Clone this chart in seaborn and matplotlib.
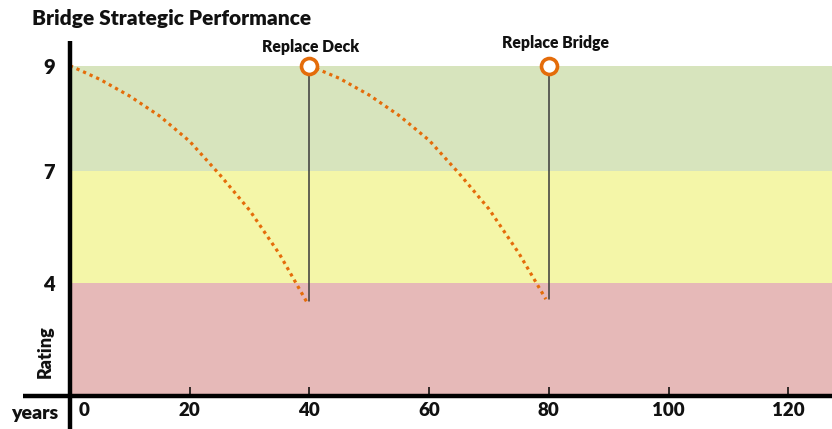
import numpy as np
import pandas as pd
import matplotlib
matplotlib.use("Agg")
import matplotlib.pyplot as plt
import matplotlib.transforms as mtransforms
import seaborn as sns

# Deterioration of the rating over time, first service life and after deck replacement
years_a = [0, 5, 10, 15, 20, 25, 30, 35, 39.5]
rating_a = [9.0, 8.74, 8.42, 8.04, 7.56, 6.90, 5.95, 4.78, 3.52]
years_b = [40, 45, 50, 55, 60, 65, 70, 75, 79.5]
rating_b = [9.0, 8.76, 8.44, 8.05, 7.58, 6.93, 5.98, 4.80, 3.58]

# Intervention events
event_years = [40, 80]
event_labels = ["Replace Deck", "Replace Bridge"]
event_top = 9.0
event_bottom = [3.52, 3.58]

# Condition bands (lower, upper, colour)
band_edges = [1, 4, 7, 9]
band_colors = ["#E6B9B8", "#F4F6A8", "#D7E4BD"]

x_ticks = [0, 20, 40, 60, 80, 100, 120]
y_ticks = [4, 7, 9]

ORANGE = "#E46C0A"
INK = "#111111"

sns.set_theme(style="white")
plt.rcParams["font.family"] = ["Lato", "DejaVu Sans"]

fig = plt.figure(figsize=(8.32, 4.29), dpi=100)
ax = fig.add_axes([70 / 832, 33 / 429, 762 / 832, 355 / 429])


# Rating axis is stretched above 7
def fwd(y):
    y = np.asarray(y, dtype=float)
    return np.where(y <= 7, y, 7 + (y - 7) * 1.4)


def inv(t):
    t = np.asarray(t, dtype=float)
    return np.where(t <= 7, t, 7 + (t - 7) / 1.4)


ax.set_yscale("function", functions=(fwd, inv))

for lo, hi, c in zip(band_edges[:-1], band_edges[1:], band_colors):
    ax.axhspan(lo, hi, color=c, lw=0, zorder=0)

df = pd.concat([
    pd.DataFrame({"year": years_a, "rating": rating_a, "phase": "life 1"}),
    pd.DataFrame({"year": years_b, "rating": rating_b, "phase": "life 2"}),
])
sns.lineplot(data=df, x="year", y="rating", units="phase", estimator=None,
             color=ORANGE, lw=2.3, ax=ax, zorder=3, legend=False)
for ln in ax.get_lines():
    ln.set_dashes((1, 1.25))
    ln.set_dash_capstyle("butt")

# label offsets in points (dx, dy) above each marker
label_offsets = [(1, 7.5), (5, 10.5)]
for x, lab, yb, (dx, dy) in zip(event_years, event_labels, event_bottom, label_offsets):
    ax.plot([x, x], [yb, event_top], color="#3a3a3a", lw=1.1, zorder=2)
    ax.plot([x], [event_top], marker="o", ms=11.5, mfc="white", mec=ORANGE,
            mew=2.6, zorder=5, clip_on=False)
    ax.annotate(lab, xy=(x, event_top), xytext=(dx, dy), textcoords="offset points",
                ha="center", va="bottom", fontsize=11.3, fontweight="heavy",
                color=INK)

ax.set_xlim(0, 127.3)
ax.set_ylim(1, 9.47)

for s in ax.spines.values():
    s.set_visible(False)

# Heavy axis lines that run past the corner
ax.plot([0, 0], [-0.093, 1.0], transform=ax.transAxes, color="black", lw=3.2,
        clip_on=False, zorder=6, solid_capstyle="butt")
ax.plot([-0.062, 1.0], [0, 0], transform=ax.transAxes, color="black", lw=3.2,
        clip_on=False, zorder=6, solid_capstyle="butt")

ax.set_xticks(x_ticks)
ax.set_xticklabels([str(v) for v in x_ticks])
ax.xaxis.set_minor_locator(matplotlib.ticker.NullLocator())
ax.yaxis.set_minor_locator(matplotlib.ticker.NullLocator())
ax.tick_params(axis="x", direction="in", length=6.5, width=1.1, color="black",
               pad=4, labelsize=13.5, bottom=True)
for t in ax.get_xticklabels():
    t.set_fontweight("heavy")
    t.set_color(INK)
xl0 = ax.get_xticklabels()[0]
xl0.set_transform(xl0.get_transform() +
                  mtransforms.ScaledTranslation(14 / 100, 0, fig.dpi_scale_trans))

ax.set_yticks(y_ticks)
ax.set_yticklabels([str(v) for v in y_ticks])
ax.tick_params(axis="y", length=0, pad=11, labelsize=14.5, left=True)
for t in ax.get_yticklabels():
    t.set_fontweight("heavy")
    t.set_color(INK)

ax.set_xlabel("")
ax.set_ylabel("")
fig.text(35 / 832, 1 - 413 / 429, "years", ha="center", va="center",
         fontsize=14, fontweight="heavy", color=INK)
fig.text(45 / 832, 1 - 352 / 429, "Rating", ha="center", va="center",
         rotation=90, fontsize=13, fontweight="heavy", color=INK)
fig.text(32 / 832, 1 - 18 / 429, "Bridge Strategic Performance", ha="left",
         va="center", fontsize=15, fontweight="heavy", color=INK)

fig.savefig("out.png", dpi=100)
